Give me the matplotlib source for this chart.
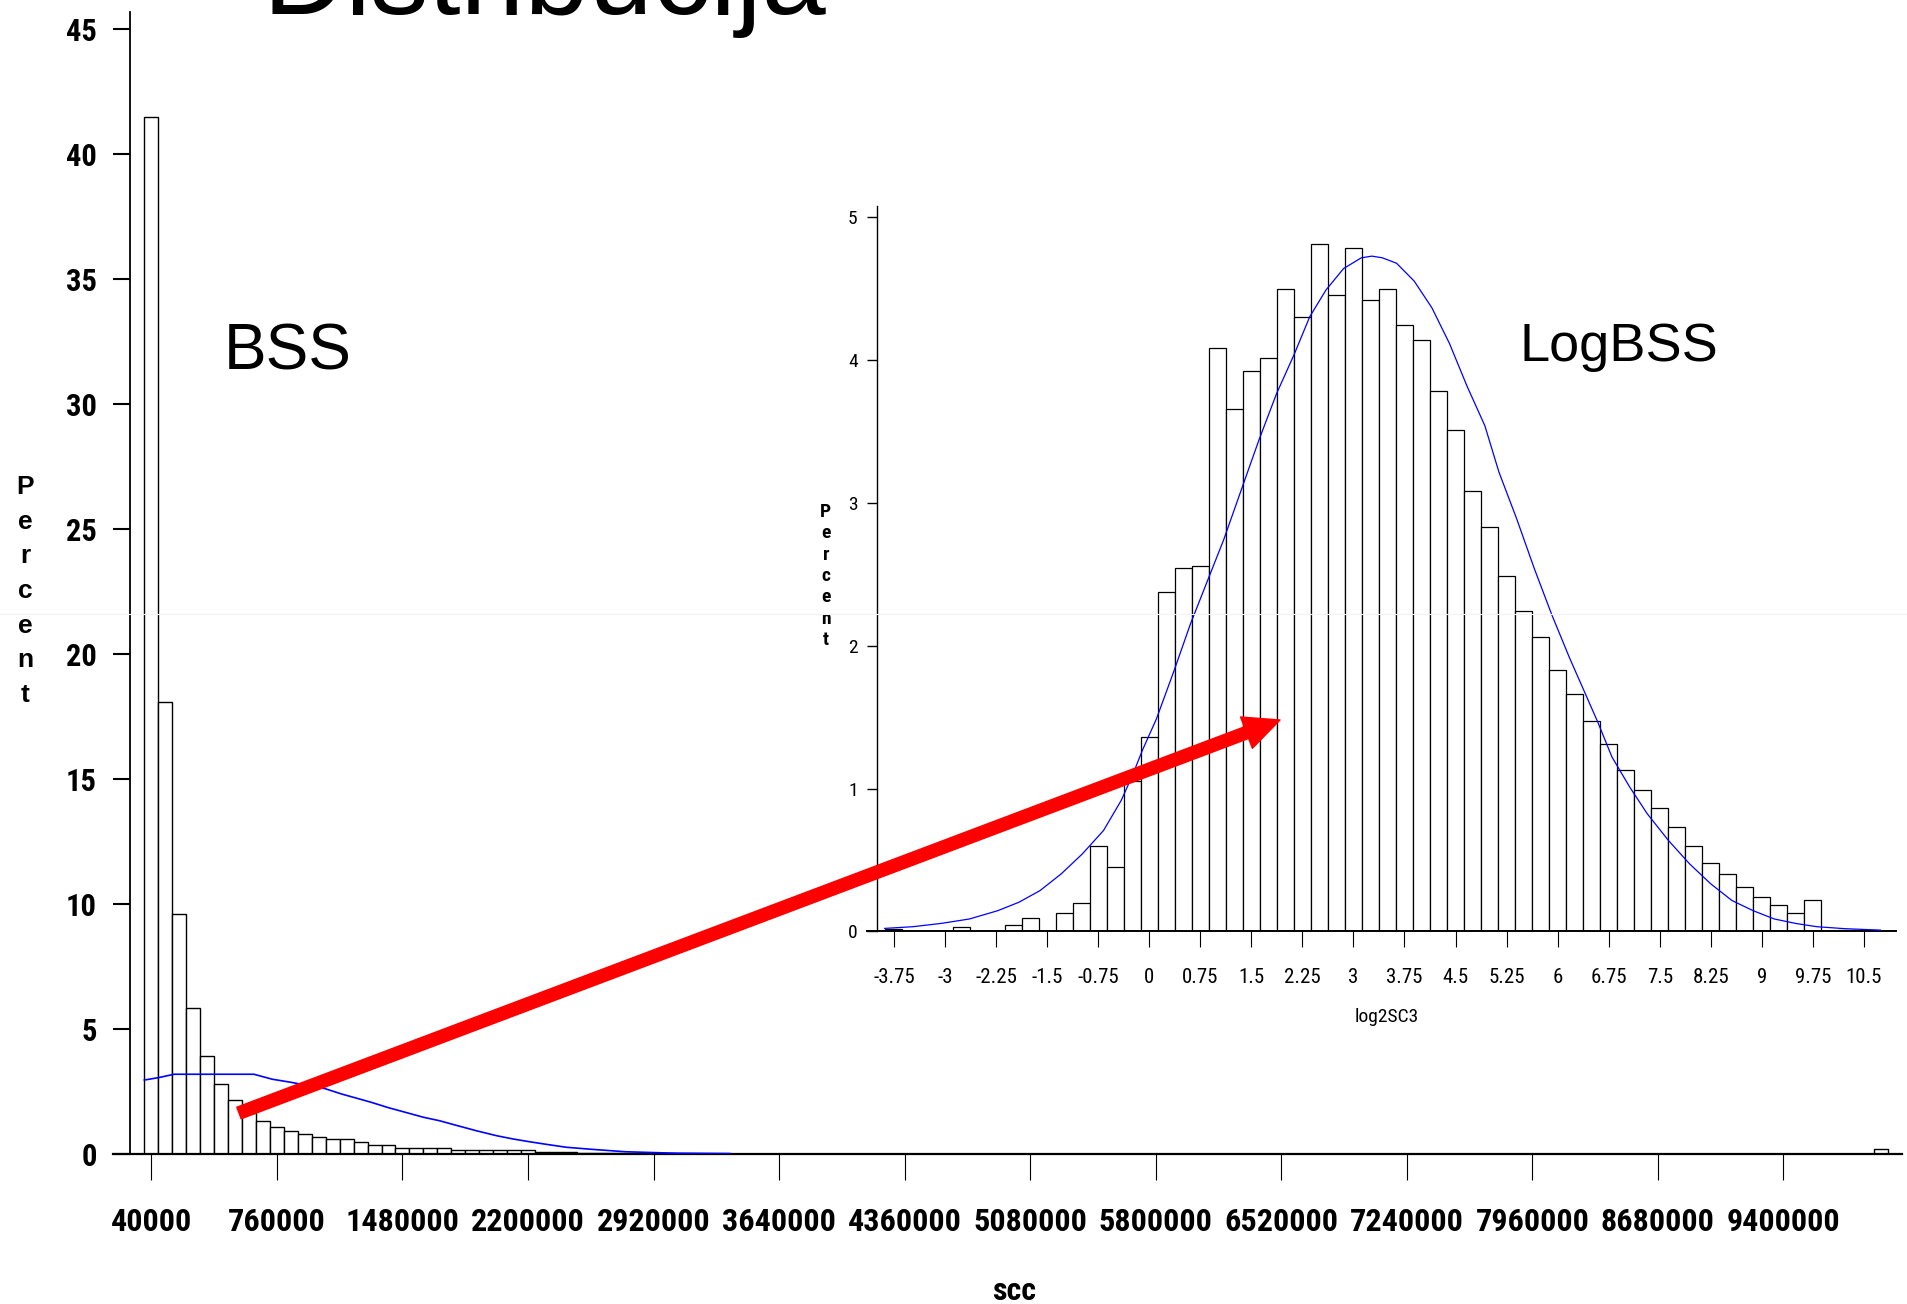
import numpy as np
import matplotlib
matplotlib.use('Agg')
import matplotlib.pyplot as plt
from matplotlib import font_manager
from matplotlib.patches import FancyArrowPatch
from matplotlib.lines import Line2D

# Fonts: Arial-like texts for the slide
plt.rcParams['font.family'] = ['Liberation Sans', 'DejaVu Sans']

# ---------------- data: scc histogram (percent per bin of 80000) ----------------
scc_bin_width = 80000
scc_first_mid = 40000
scc_percent = [41.5, 18.1, 9.6, 5.85, 3.92, 2.79, 2.15, 1.64, 1.32, 1.09, 0.93, 0.79, 0.69, 0.59,
               0.59, 0.49, 0.35, 0.35, 0.25, 0.25, 0.25, 0.25, 0.16, 0.16, 0.16, 0.16, 0.16, 0.16,
               0.08, 0.07, 0.07, 0.06, 0.06, 0.05, 0.05, 0.04, 0.04, 0.04, 0.03, 0.03, 0.03, 0.03]
scc_outlier_mid = 9960000
scc_outlier_percent = 0.2

# normal curve over scc
scc_fit_x = [0, 78000, 171000, 628000, 734000, 839000, 944000, 1038000, 1131000, 1295000, 1401000,
             1506000, 1600000, 1693000, 1787000, 1904000, 2021000, 2115000, 2209000, 2302000,
             2419000, 2560000, 2759000, 3052000, 3360000]
scc_fit_y = [2.96, 3.05, 3.19, 3.19, 2.99, 2.87, 2.73, 2.61, 2.40, 2.08, 1.85, 1.65, 1.47, 1.33, 1.15,
             0.93, 0.73, 0.60, 0.49, 0.39, 0.27, 0.19, 0.09, 0.03, 0.01]

scc_ticks = [40000, 760000, 1480000, 2200000, 2920000, 3640000, 4360000, 5080000, 5800000,
             6520000, 7240000, 7960000, 8680000, 9400000]
scc_ticklabels = ['40000', '760000', '1480000', '2200000', '2920000', '3640000', '4360000',
                  '5080000', '5800000', '6520000', '7240000', '7960000', '8680000', '9400000']
percent_ticks = [0, 5, 10, 15, 20, 25, 30, 35, 40, 45]

# ---------------- data: log2 histogram (percent per bin of 0.25) ----------------
log_bin_width = 0.25
log_mids = [-3.75, -3.5, -3.25, -3.0, -2.75, -2.5, -2.25, -2.0, -1.75, -1.5, -1.25, -1.0, -0.75,
            -0.5, -0.25, 0.0, 0.25, 0.5, 0.75, 1.0, 1.25, 1.5, 1.75, 2.0, 2.25, 2.5, 2.75, 3.0,
            3.25, 3.5, 3.75, 4.0, 4.25, 4.5, 4.75, 5.0, 5.25, 5.5, 5.75, 6.0, 6.25, 6.5, 6.75, 7.0,
            7.25, 7.5, 7.75, 8.0, 8.25, 8.5, 8.75, 9.0, 9.25, 9.5, 9.75, 10.0, 10.25, 10.5]
log_percent = [0.02, 0, 0, 0, 0.033, 0, 0, 0.047, 0.094, 0, 0.126, 0.196, 0.60,
               0.451, 1.05, 1.36, 2.38, 2.545, 2.558, 4.086, 3.661, 3.924, 4.019, 4.499, 4.304,
               4.812, 4.454, 4.789, 4.419, 4.499, 4.246, 4.141, 3.784, 3.509, 3.083, 2.833, 2.488,
               2.246, 2.063, 1.83, 1.66, 1.473, 1.315, 1.129, 0.993, 0.864, 0.728, 0.60, 0.482,
               0.405, 0.311, 0.244, 0.185, 0.129, 0.22, 0, 0.01, 0.01]

log_fit_x = [-3.885, -3.470, -3.055, -2.640, -2.225, -1.914, -1.603, -1.292, -0.981, -0.670, -0.410,
             -0.255, -0.099, 0.108, 0.367, 0.606, 0.865, 1.093, 1.352, 1.612, 1.871, 2.130, 2.358,
             2.597, 2.856, 3.115, 3.271, 3.427, 3.634, 3.893, 4.153, 4.412, 4.671, 4.931, 5.138,
             5.397, 5.657, 5.916, 6.175, 6.383, 6.590, 6.797, 7.057, 7.316, 7.627, 7.938, 8.249,
             8.561, 8.872, 9.182, 9.494, 9.805, 10.22, 10.74]
log_fit_y = [0.021, 0.033, 0.056, 0.087, 0.145, 0.204, 0.286, 0.403, 0.543, 0.707, 0.918, 1.082,
             1.269, 1.49, 1.828, 2.153, 2.466, 2.741, 3.091, 3.441, 3.766, 4.041, 4.304, 4.492,
             4.642, 4.717, 4.729, 4.717, 4.679, 4.554, 4.367, 4.116, 3.816, 3.541, 3.216, 2.891,
             2.541, 2.215, 1.915, 1.69, 1.465, 1.222, 1.012, 0.824, 0.637, 0.473, 0.333, 0.216,
             0.145, 0.087, 0.056, 0.033, 0.019, 0.009]

log_ticks = [-3.75, -3, -2.25, -1.5, -0.75, 0, 0.75, 1.5, 2.25, 3, 3.75, 4.5, 5.25, 6, 6.75, 7.5,
             8.25, 9, 9.75, 10.5]
log_ticklabels = ['-3.75', '-3', '-2.25', '-1.5', '-0.75', '0', '0.75', '1.5', '2.25', '3', '3.75',
                  '4.5', '5.25', '6', '6.75', '7.5', '8.25', '9', '9.75', '10.5']
log_percent_ticks = [0, 1, 2, 3, 4, 5]

# Figure size in pixels
W, H = 1907, 1304


def pick_narrow_font():
    """
    SAS output uses narrow glyphs, so we look for a condensed sans face among the installed fonts.
    :return: dictionary of text properties
    """
    faces = font_manager.fontManager.ttflist
    names = {f.name for f in faces}
    for name in ['Liberation Sans Narrow', 'Arial Narrow', 'Roboto Condensed', 'Open Sans Condensed',
                 'Noto Sans Condensed', 'Noto Sans SemiCondensed']:
        if name in names:
            return {'fontfamily': [name, 'Liberation Sans'], 'fontstretch': 'normal'}
    for name in ['Noto Sans', 'Roboto', 'Open Sans']:
        for f in faces:
            if f.name == name and f.stretch == 'condensed':
                return {'fontfamily': [name, 'Liberation Sans'], 'fontstretch': 'condensed'}
    return {'fontfamily': ['Liberation Sans', 'DejaVu Sans'], 'fontstretch': 'normal'}


def px_box(left, top, right, bottom):
    """Axes rectangle in figure fraction from pixel edges (top-left origin)."""
    return [left / W, 1 - bottom / H, (right - left) / W, (bottom - top) / H]


def vertical_word(word, x, y0, step, **kw):
    """We write a word letter under letter, like SAS does for the axis label."""
    for i, ch in enumerate(word):
        fig.text(x / W, 1 - (y0 + i * step) / H, ch, ha='center', va='baseline', **kw)


def fit_labels(labels, max_width, renderer):
    """We shrink tick labels until the widest one fits between two ticks."""
    widest = max(lbl.get_window_extent(renderer).width for lbl in labels)
    if widest > max_width:
        for lbl in labels:
            lbl.set_fontsize(lbl.get_fontsize() * max_width / widest)


NARROW = pick_narrow_font()

fig = plt.figure(figsize=(W / 100, H / 100), dpi=100)

# ---------------- main histogram ----------------
ax = fig.add_axes(px_box(113, 12, 1901.7, 1154))
scc_mids = scc_first_mid + scc_bin_width * np.arange(len(scc_percent))
ax.bar(scc_mids, scc_percent, width=scc_bin_width, facecolor='white', edgecolor='black',
       linewidth=1.0, zorder=2)
ax.bar([scc_outlier_mid], [scc_outlier_percent], width=scc_bin_width, facecolor='white',
       edgecolor='black', linewidth=1.0, zorder=2)
ax.plot(scc_fit_x, scc_fit_y, color='blue', linewidth=1.2, zorder=3)

ax.set_xlim(-180000, 10078000)
ax.set_ylim(0, 45.68)
ax.spines['top'].set_visible(False)
ax.spines['right'].set_visible(False)
ax.spines['left'].set_position(('data', -80000))
ax.spines['left'].set_linewidth(1.3)
ax.spines['bottom'].set_linewidth(1.6)

ax.set_xticks(scc_ticks, scc_ticklabels, fontweight='bold', fontsize=25, **NARROW)
ax.set_yticks(percent_ticks, [str(t) for t in percent_ticks], fontweight='bold', fontsize=22,
              **NARROW)
ax.tick_params(axis='x', direction='out', length=18.5, width=0.8, pad=20)
ax.tick_params(axis='y', direction='out', length=12.2, width=1.5, pad=12)
ax.set_xlabel('scc', fontweight='bold', fontsize=23, **NARROW)
ax.xaxis.set_label_coords(0.5037, -0.12)
ax.xaxis.label.set_va('center')

vertical_word('Percent', 25.5, 493.8, 34.7, fontsize=19, fontweight='bold')

# ---------------- inset histogram ----------------
ax2 = fig.add_axes(px_box(867, 206, 1896, 931.4))
ax2.patch.set_visible(False)
ax2.bar(log_mids, log_percent, width=log_bin_width, facecolor='white', edgecolor='black',
        linewidth=0.9, zorder=2)
ax2.plot(log_fit_x, log_fit_y, color='blue', linewidth=0.9, zorder=3)

ax2.set_xlim(-4.145, 10.97)
ax2.set_ylim(0, 5.08)
ax2.spines['top'].set_visible(False)
ax2.spines['right'].set_visible(False)
ax2.spines['left'].set_position(('data', -4.0))
ax2.spines['left'].set_linewidth(1.0)
ax2.spines['bottom'].set_linewidth(1.4)
ax2.set_xticks(log_ticks, log_ticklabels, fontsize=15, **NARROW)
ax2.set_yticks(log_percent_ticks, [str(t) for t in log_percent_ticks], fontsize=14, **NARROW)
ax2.tick_params(axis='x', direction='out', length=11.5, width=0.8, pad=14.5)
ax2.tick_params(axis='y', direction='out', length=7, width=1.0, pad=6.8)
ax2.set_xlabel('log2SC3', fontsize=14, **NARROW)
ax2.xaxis.set_label_coords(0.5053, -0.118)
ax2.xaxis.label.set_va('center')

vertical_word('Percent', 825.8, 516.7, 21.4, fontsize=14, fontweight='bold', **NARROW)

# ---------------- slide texts ----------------
fig.text(262 / W, 1 - 13.5 / H, 'Distribucija', fontsize=83, ha='left', va='baseline')
fig.text(224 / W, 1 - 369 / H, 'BSS', fontsize=46, ha='left', va='baseline')
fig.text(1520 / W, 1 - 360.7 / H, 'LogBSS', fontsize=39, ha='left', va='baseline')

# Red arrow from BSS to LogBSS
arrow = FancyArrowPatch((239 / W, 1 - 1113 / H), (1280 / W, 1 - 720 / H),
                        transform=fig.transFigure,
                        arrowstyle='simple,head_length=2.58,head_width=2.41,tail_width=0.89',
                        mutation_scale=10, color='#ff0000', shrinkA=0, shrinkB=0, zorder=10)
fig.add_artist(arrow)

# faint seam across the scanned slide
fig.add_artist(Line2D([0, 1], [1 - 614 / H, 1 - 614 / H], transform=fig.transFigure,
                      color='#f2f2f2', linewidth=0.8, zorder=20))

# We make sure the long scc labels do not run into each other
fig.canvas.draw()
renderer = fig.canvas.get_renderer()
fit_labels(ax.get_xticklabels(), 114, renderer)
fit_labels(ax2.get_xticklabels(), 47, renderer)

fig.savefig('out.png', dpi=100)
plt.close(fig)
